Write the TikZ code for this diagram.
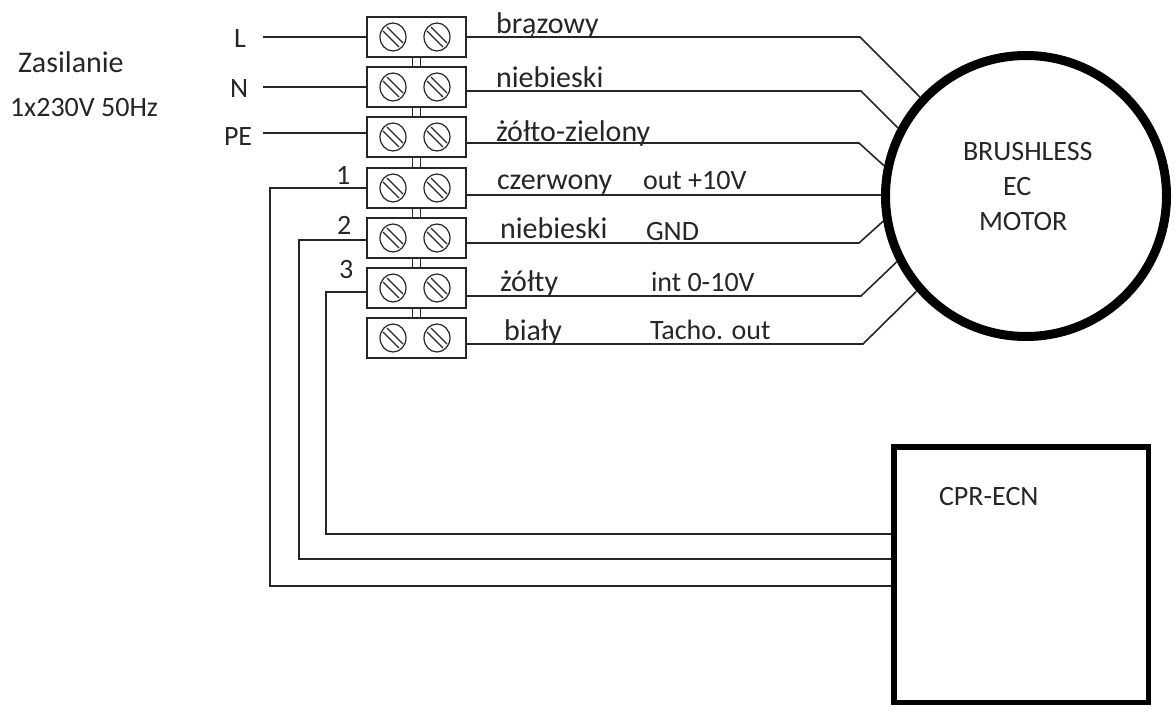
\documentclass[tikz,border=0pt]{standalone}
\usepackage{fontspec}
\setmainfont{Carlito}
\tikzset{
  terminal/.style={draw=black!85, line width=2pt, minimum width=99pt, minimum height=40pt, outer sep=0pt, inner sep=0pt},
  wire/.style={draw=black!85, line width=1.6pt},
  lbl/.style={anchor=base west, inner sep=0pt, outer sep=0pt, yshift=-2pt, text=black!85, font=\fontsize{28}{32}\selectfont},
  colourlbl/.style={lbl, font=\fontsize{30}{34}\selectfont},
}
\begin{document}
\begin{tikzpicture}[x=1pt,y=-1pt]
    \newcommand{\screwHead}[1]{
        \begin{scope}[shift={(#1)}, draw=black!85, line width=1.2pt]
        \draw (0,0) ellipse (13 and 14);
        \draw (-10,-6) -- (6,10);
        \draw (-6,-10) -- (10,6);
        \end{scope}
    }
  \useasboundingbox (0,0) rectangle (1176,714);

  % terminal strip
  \foreach \idx/\ypos in {1/37,2/87,3/137,4/188,5/238,6/288,7/338} {
    \node[terminal] (term\idx) at (416.5,\ypos) {};
    \screwHead{393,\ypos}
    \screwHead{437,\ypos}
  }
  \foreach \idx/\nxt in {1/2,2/3,3/4,4/5,5/6,6/7} {
    \draw[wire] ([xshift=-4]term\idx.south) -- ([xshift=-4]term\nxt.north);
    \draw[wire] ([xshift=4]term\idx.south) -- ([xshift=4]term\nxt.north);
  }

  \node[circle, draw=black, line width=9pt, minimum size=281pt, outer sep=4.5pt, inner sep=0pt] (motor) at (1026,196) {};
  \node[draw=black, line width=5.5pt, minimum width=254.5pt, minimum height=255.5pt, outer sep=2.75pt, inner sep=0pt] (cpr) at (1021,574.5) {};

  % supply side
  \foreach \idx/\ypos/\lx/\lbase/\ltxt in {1/37/234/46/L,2/87/230/96/N,3/133/224/144/PE} {
    \node[lbl] (supply\idx) at (\lx,\lbase) {\ltxt};
    \coordinate (free\idx) at (263,\ypos);
    \draw[wire] (free\idx) -- (term\idx.west |- free\idx);
  }

  % control lines
  \foreach \idx/\xpos/\ypos/\yend/\lx/\lbase/\ltxt in {4/270/188/586/336/183/1,5/299/240/559/337/233/2,6/326/292/534/339/277/3} {
    \coordinate (ctrlA\idx) at (\xpos,\ypos);
    \coordinate (ctrlB\idx) at (\xpos,\yend);
    \draw[wire] (term\idx.west |- ctrlA\idx) -- (ctrlA\idx) -- (ctrlB\idx) -- (cpr.west |- ctrlB\idx);
    \node[lbl] (num\idx) at (\lx,\lbase) {\ltxt};
  }

  % motor leads
  \foreach \idx/\xpos/\ypos/\ang in {1/860/37/137.5,2/861/91/152,3/859/143/168,5/859/243/190,6/861/296/207,7/863/344/221} {
    \coordinate (bend\idx) at (\xpos,\ypos);
    \draw[wire] (term\idx.east |- bend\idx) -- (bend\idx) -- (motor.\ang);
  }
  \coordinate (bend4) at (860,195);
  \draw[wire] (term4.east |- bend4) -- (motor.west |- bend4);

  % wire colours
  \foreach \idx/\lx/\lbase/\ltxt in {
    a/496/32/brązowy, b/496/86/niebieski, c/496/140/żółto-zielony,
    d/497/188/czerwony, f/500/237/niebieski,
    h/500/289/żółty, j/504/338/biały, l/18/71/Zasilanie} {
    \node[colourlbl] (text\idx) at (\lx,\lbase) {\ltxt};
  }
  % signals and names
  \foreach \idx/\lx/\lbase/\ltxt in {
    e/643/188/out +10V, g/646/239/GND, i/651/289/int 0-10V, k/650/337/Tacho. out,
    m/10/115/1x230V 50Hz,
    n/963/159/BRUSHLESS, o/1003/194/EC, p/979/229/MOTOR, q/939/503/CPR-ECN} {
    \node[lbl] (text\idx) at (\lx,\lbase) {\ltxt};
  }
\end{tikzpicture}
\end{document}
